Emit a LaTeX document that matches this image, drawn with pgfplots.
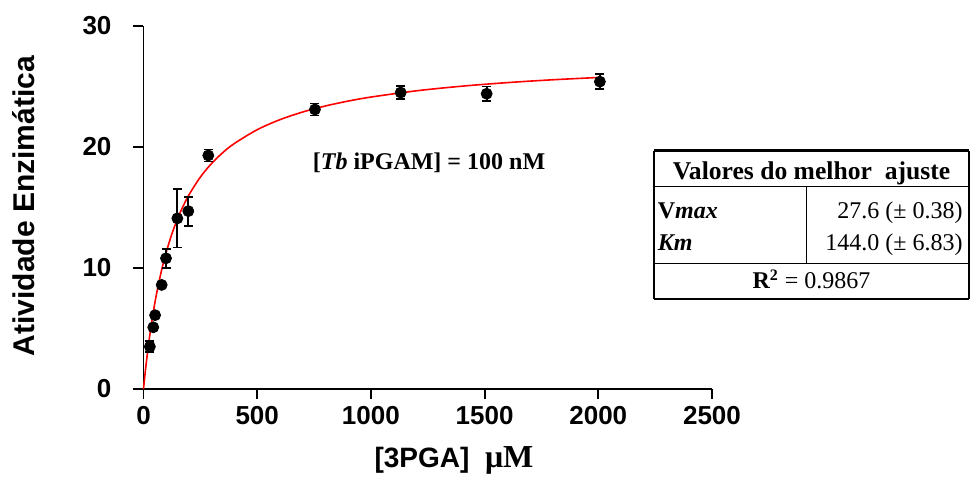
\documentclass[border=0pt]{standalone}
\usepackage{fontspec}
\setmainfont{Liberation Serif}
\setsansfont{Liberation Sans}
\usepackage{pgfplots}
\pgfplotsset{compat=1.18}
\pgfplotstableread{
x y
28 3.5
43 5.1
51 6.1
80 8.6
99 10.8
149 14.1
197 14.7
285 19.3
754 23.1
1131 24.5
1509 24.4
2007 25.4
}\pts
\pgfplotstableread{
x y e
28 3.5 0.45
99 10.8 0.8
149 14.1 2.4
197 14.7 1.2
285 19.3 0.5
754 23.1 0.5
1131 24.5 0.55
1509 24.4 0.6
2007 25.4 0.6
}\errs
\begin{document}
\begin{tikzpicture}
\begin{axis}[
 at={(0,0)}, anchor=south west, scale only axis,
 width=284.25pt, height=181.5pt,
 xmin=0, xmax=2500, ymin=0, ymax=30,
 axis lines=left, axis line style={-, line width=0.9pt},
 xtick={0,500,1000,1500,2000,2500}, ytick={0,10,20,30},
 tick align=outside, major tick length=5pt,
 tick style={line width=0.9pt, black},
 /pgf/number format/1000 sep={},
 /pgf/number format/assume math mode=true,
 ticklabel style={font=\sffamily\bfseries\fontsize{13}{15}\selectfont},
 yticklabel style={xshift=-7.5pt},
 clip=false,
]
\addplot[red, line width=0.8pt, smooth] coordinates {
(0,0) (5,0.926) (10,1.792) (20,3.366) (30,4.759) (40,6.000) (50,7.113) (60,8.118)
(80,9.857) (100,11.311) (125,12.825) (150,14.082) (175,15.141) (200,16.047)
(250,17.513) (300,18.649) (350,19.555) (400,20.294) (500,21.429) (600,22.258)
(700,22.891) (800,23.390) (900,23.793) (1000,24.126) (1200,24.643) (1400,25.026)
(1600,25.321) (1800,25.556) (2000,25.746)};
\addplot[draw=none, mark=none, forget plot,
  error bars/.cd, y dir=both, y explicit,
  error bar style={line width=0.9pt, black},
  error mark options={rotate=90, mark size=2.25pt, line width=0.9pt, black}]
  table[x=x, y=y, y error=e] {\errs};
\addplot[only marks, mark=*, mark size=2.75pt, black] table[x=x, y=y] {\pts};
\end{axis}
\node[anchor=base, font=\bfseries\fontsize{12}{14}\selectfont] at (142.75pt,109.5pt) {[\textit{Tb} iPGAM] = 100 nM};
\node[rotate=90, anchor=base, font=\sffamily\bfseries\fontsize{15}{17}\selectfont] at (-54.25pt,91.5pt) {Atividade Enzimática};
\node[anchor=base] at (155.25pt,-39.5pt) {\sffamily\bfseries\fontsize{14}{16}\selectfont [3PGA]\ \ {\rmfamily\fontsize{16}{18}\selectfont μM}};
% table
\draw[line width=1.5pt] (255.25pt,119pt) -- (412.75pt,119pt);
\draw[line width=0.6pt] (255.25pt,119pt) -- (255.25pt,45pt);
\draw[line width=0.6pt] (412.75pt,119pt) -- (412.75pt,45pt);
\draw[line width=0.6pt] (255.25pt,101.15pt) -- (412.75pt,101.15pt);
\draw[line width=0.6pt] (255.25pt,62.85pt) -- (412.75pt,62.85pt);
\draw[line width=0.6pt] (331.6pt,101.15pt) -- (331.6pt,62.85pt);
\draw[line width=1.2pt] (255.25pt,45pt) -- (412.75pt,45pt);
\begin{scope}[every node/.style={font=\fontsize{12}{14}\selectfont, inner sep=1pt}]
\node[anchor=base, font=\bfseries\fontsize{12.8}{14}\selectfont] at (334pt,104.5pt) {Valores do melhor\ \ ajuste};
\node[anchor=base west] at (256pt,85pt) {\textbf{V\textit{max}}};
\node[anchor=base west] at (256pt,69pt) {\textbf{\textit{Km}}};
\node[anchor=base east] at (410.75pt,85pt) {27.6 (± 0.38)};
\node[anchor=base east] at (410.75pt,69pt) {144.0 (± 6.83)};
\node[anchor=base] at (334pt,50pt) {\textbf{R\textsuperscript{2}} = 0.9867};
\end{scope}
\pgfresetboundingbox
\path[use as bounding box] (-71.75pt,-45.5pt) rectangle (413.25pt,194.5pt);
\end{tikzpicture}
\end{document}
